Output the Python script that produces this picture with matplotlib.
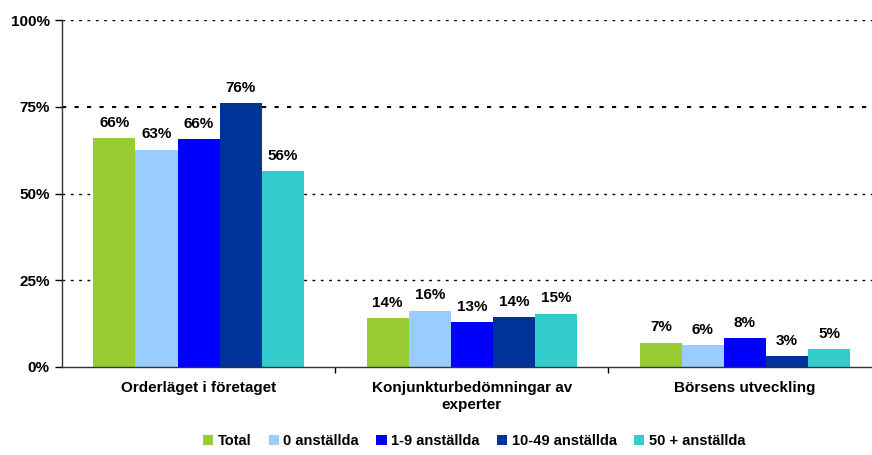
import numpy as np
import matplotlib
matplotlib.use("Agg")
import matplotlib.pyplot as plt

plt.rcParams["font.family"] = ["Liberation Sans", "DejaVu Sans"]
plt.rcParams["font.weight"] = "bold"

categories = ["Orderläget i företaget", "Konjunkturbedömningar av\nexperter", "Börsens utveckling"]
series_names = ["Total", "0 anställda", "1-9 anställda", "10-49 anställda", "50 + anställda"]
total = [66.0, 14.1, 7.0]
zero_emp = [62.6, 16.2, 6.3]
emp_1_9 = [65.7, 13.0, 8.4]
emp_10_49 = [76.1, 14.4, 3.2]
emp_50 = [56.4, 15.4, 5.2]
colors = ["#99CC33", "#99CCFF", "#0000FF", "#003399", "#33CCCC"]
y_ticks = [0, 25, 50, 75, 100]


def main():
    fig = plt.figure(figsize=(8.72, 4.55), dpi=100)
    ax = fig.add_axes([62 / 872, 1 - 367 / 455, 1 - 62 / 872, 347 / 455])

    data = [total, zero_emp, emp_1_9, emp_10_49, emp_50]
    x = np.arange(len(categories))
    width = 0.154

    for yv in y_ticks[1:]:
        ax.axhline(yv, color="black", linestyle=(0, (2, 4)), linewidth=1.5 if yv == 75 else 1.0, zorder=0)

    for i, (name, vals) in enumerate(zip(series_names, data)):
        pos = x + (i - 2) * width
        ax.bar(pos, vals, width=width, color=colors[i], label=name, zorder=2)
        for px, v in zip(pos, vals):
            ax.annotate(f"{round(v)}%", (px, v), xytext=(0, 6), textcoords="offset points",
                        ha="center", va="bottom", fontsize=11, fontweight="bold")

    ax.set_ylim(0, 100)
    ax.set_xlim(-0.5, 2.465)
    ax.set_yticks(y_ticks)
    ax.set_yticklabels([f"{t}%" for t in y_ticks], fontsize=11, fontweight="bold")
    ax.tick_params(axis="y", direction="out", length=5, width=1, pad=4)

    ax.set_xticks([0.5, 1.5])
    ax.set_xticklabels(["", ""])
    ax.tick_params(axis="x", direction="out", length=4, width=1)
    for xc, lab in zip(x, categories):
        ax.text(xc, -4, lab, ha="center", va="top", fontsize=11, fontweight="bold",
                linespacing=1.25, transform=ax.transData, clip_on=False)

    for s in ["top", "right"]:
        ax.spines[s].set_visible(False)
    ax.spines["left"].set_linewidth(1)
    ax.spines["bottom"].set_linewidth(1)
    ax.spines["left"].set_color("#333333")
    ax.spines["bottom"].set_color("#333333")

    fig.legend(loc="center", bbox_to_anchor=(474 / 872, 1 - 441 / 455), ncol=5, frameon=False,
               fontsize=10.5, handlelength=0.7, handleheight=0.7, handletextpad=0.3,
               columnspacing=1.2, borderaxespad=0)

    plt.savefig("out.png", dpi=100)


if __name__ == "__main__":
    main()
